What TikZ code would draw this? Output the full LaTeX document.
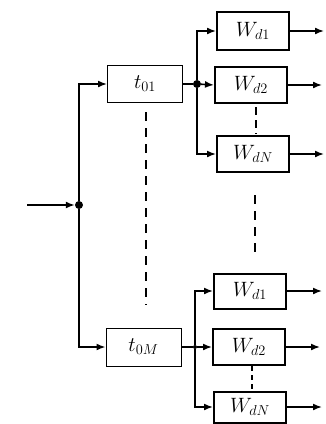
\documentclass[tikz,border=0pt]{standalone}
\usetikzlibrary{arrows.meta}
\begin{document}
\begin{tikzpicture}[x=1pt,y=-1pt,
  wbox/.style={draw,line width=2pt,minimum width=72pt,minimum height=36pt,inner sep=0pt,font=\fontsize{21}{24}\selectfont},
  tbox/.style={draw,line width=1pt,minimum width=75pt,minimum height=37pt,inner sep=0pt,font=\fontsize{21}{24}\selectfont},
  arr/.style={line width=1.6pt,-{Latex[length=9pt,width=7pt]}},
  ln/.style={line width=1.6pt},
  dot/.style={circle,fill,inner sep=0pt,minimum size=8pt},
  dsh/.style={line width=1.6pt,dash pattern=on 9pt off 7pt}]
\useasboundingbox (0,0) rectangle (325,424);
% main boxes
\node[tbox] (t1) at (145,84) {$t_{01}$};
\node[tbox,minimum height=38pt] (tM) at (143.5,347) {$t_{0M}$};
\node[wbox,minimum height=38pt] (w11) at (253,31) {$W_{d1}$};
\node[wbox] (w12) at (251,85) {$W_{d2}$};
\node[wbox] (w1N) at (253,154) {$W_{dN}$};
\node[wbox,minimum height=35pt] (w21) at (250,291) {$W_{d1}$};
\node[wbox] (w22) at (249,347) {$W_{d2}$};
\node[wbox,minimum height=31pt] (w2N) at (250,407) {$W_{dN}$};
% junctions
\node[dot] (j0) at (79,205) {};
\node[dot] (j1) at (197,84) {};
\node[dot,minimum size=4pt] (j2) at (195,347) {};
\coordinate (src) at (27,205);
% input
\draw[arr] (src) -- (j0);
\draw[arr] (j0) |- (t1.west);
\draw[arr] (j0) |- (tM.west);
% top group
\draw[ln] (t1.east) -- (j1);
\draw[arr] (j1) |- (w11.west);
\draw[arr] (j1) -- (w12.west);
\draw[arr] (j1) |- (w1N.west);
% bottom group
\draw[ln] (tM.east) -- (j2);
\draw[arr] (j2) |- (w21.west);
\draw[arr] (j2) -- (w22.west);
\draw[arr] (j2) |- (w2N.west);
% outputs
\coordinate (o11) at (324,31);
\coordinate (o12) at (322,85);
\coordinate (o1N) at (324,154);
\coordinate (o21) at (322,291);
\coordinate (o22) at (320,347);
\coordinate (o2N) at (322,407);
\draw[arr] (w11.east) -- (o11);
\draw[arr] (w12.east) -- (o12);
\draw[arr] (w1N.east) -- (o1N);
\draw[arr] (w21.east) -- (o21);
\draw[arr] (w22.east) -- (o22);
\draw[arr] (w2N.east) -- (o2N);
% dashed continuation marks
\coordinate (da) at (146,112);
\coordinate (db) at (146,305);
\draw[dsh] (da) -- (db);
\coordinate (dc) at (256,107);
\coordinate (dd) at (256,134);
\draw[dsh,dash pattern=on 8pt off 5pt] (dc) -- (dd);
\coordinate (de) at (255,195);
\coordinate (df) at (255,257);
\draw[dsh] (de) -- (df);
\coordinate (dg) at (252,366);
\coordinate (dh) at (252,391);
\draw[line width=1.4pt,dash pattern=on 5pt off 4pt] (dg) -- (dh);
\end{tikzpicture}
\end{document}
